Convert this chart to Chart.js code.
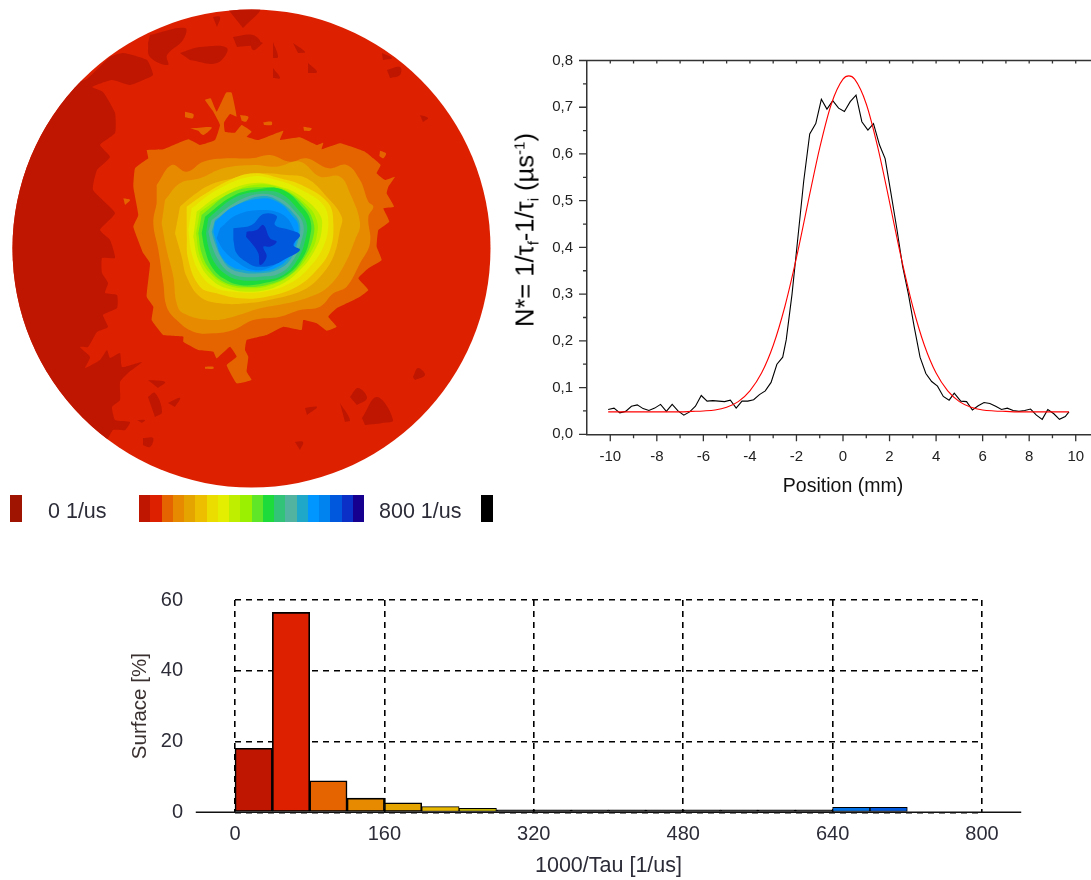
<!DOCTYPE html>
<html><head><meta charset="utf-8">
<script src="https://cdn.jsdelivr.net/npm/chart.js@4/dist/chart.umd.min.js"></script>
<style>
html,body{margin:0;padding:0;background:#fff;width:1091px;height:880px;overflow:hidden;font-family:"Liberation Sans",Arial,sans-serif}
canvas{position:absolute;display:block}
.t{position:absolute;white-space:nowrap;color:#2c2c38}
#ytitle{left:525px;top:229.5px;transform:translate(-50%,-50%) rotate(-90deg);font-size:25.5px;color:#000}
#ytitle sub{font-size:15px;vertical-align:-5px;line-height:0}
#ytitle sup{font-size:15px;vertical-align:9px;line-height:0}
.sw{position:absolute;top:495px;height:27px}
</style></head><body>
<canvas id="map" width="500" height="500" style="left:0;top:0"></canvas>
<canvas id="line" width="600" height="458" style="left:500px;top:40px"></canvas>
<canvas id="hist" width="940" height="295" style="left:120px;top:585px"></canvas>
<div class="t" id="ytitle">N*= 1/τ<sub>f</sub>-1/τ<sub>i</sub> (µs<sup>-1</sup>)</div>
<div id="legend"></div>
<script>
// ---------- shared colour scale (20 classes, 0..800 1/us) ----------
const classColors=['#BE1600','#DC2000','#E56400','#E88A00','#E6A400','#EDBE00','#EBDD00','#E4EE00','#BFEE00','#9AF000','#60E628','#1EDB3C','#33C378','#52B3A0','#20A8C8','#0096FF','#0083EE','#0059DC','#0A30C8','#160090'];
const legendLow='0 1/us', legendHigh='800 1/us', underColor='#9E1400', overColor='#000000';

// ---------- histogram ----------
const binCenters=[20,60,100,140,180,220,260,300,340,380,420,460,500,540,580,620,660,700,740,780];
const surfacePct=[18.1,56.5,8.9,4.0,2.7,1.6,1.1,0.7,0.7,0.7,0.7,0.7,0.7,0.7,0.7,0.7,1.4,1.4,0,0];
const histBarColors=['#BE1600','#DC2000','#E56400','#E88A00','#E6A400','#E8B800','#C4B400','#000','#000','#000','#000','#000','#000','#000','#000','#000','#0070E6','#0059DC','#000','#000'];
const histXTicks=[0,160,320,480,640,800];
const histYTicks=[0,20,40,60];
const histBaseline=[-42,842];

// ---------- profile ----------
const posMm=[-10.09,-9.84,-9.59,-9.34,-9.09,-8.84,-8.59,-8.34,-8.09,-7.84,-7.59,-7.34,-7.09,-6.84,-6.59,-6.34,-6.09,-5.84,-5.59,-5.34,-5.09,-4.84,-4.59,-4.34,-4.09,-3.84,-3.59,-3.34,-3.09,-2.84,-2.59,-2.44,-2.19,-1.94,-1.69,-1.43,-1.17,-0.93,-0.69,-0.44,-0.19,0.06,0.31,0.56,0.81,1.07,1.31,1.57,1.81,2.06,2.31,2.56,2.81,3.06,3.31,3.56,3.81,4.06,4.31,4.56,4.78,5.06,5.31,5.56,5.81,6.06,6.31,6.56,6.81,7.06,7.31,7.56,7.81,8.06,8.31,8.56,8.8,9.06,9.3,9.55,9.71];
const density=[.053,.056,.046,.049,.060,.063,.055,.051,.056,.064,.049,.064,.050,.041,.048,.060,.083,.071,.072,.071,.070,.073,.056,.071,.071,.074,.085,.093,.111,.150,.165,.202,.300,.420,.541,.643,.665,.717,.696,.714,.698,.691,.712,.726,.669,.651,.665,.619,.590,.516,.441,.360,.300,.230,.165,.130,.113,.103,.081,.073,.088,.071,.070,.052,.061,.068,.066,.060,.053,.056,.051,.049,.051,.054,.041,.032,.053,.044,.032,.038,.048];
const fitMm=[-10.09,-9,-8,-7,-6.5,-6,-5.5,-5,-4.5,-4,-3.5,-3,-2.5,-2,-1.5,-1,-0.5,0,0.25,0.5,1,1.5,2,2.5,3,3.5,4,4.5,5,5.5,6,6.5,7,7.5,8,9,9.71];
const fitValues=[.048,.048,.048,.048,.049,.050,.052,.058,.070,.093,.131,.190,.273,.378,.497,.613,.707,.760,.767,.760,.707,.613,.497,.378,.273,.190,.131,.093,.070,.058,.052,.050,.049,.048,.048,.048,.048];
const lineXLabels=[-10,-8,-6,-4,-2,0,2,4,6,8,10];
const lineXMinor=[-9,-7,-5,-3,-1,1,3,5,7,9];
const lineYLabels=[0,.1,.2,.3,.4,.5,.6,.7,.8];
const lineYMinor=[.05,.15,.25,.35,.45,.55,.65,.75];

// ---------- map: disc, and contour outlines (map units) ----------
const discCenter=[251.5,248.5], discRadius=239;
const wholeField=[0,0,500,0,500,500,0,500];
const lowMain=[0,0,50,80,85,80,110,57,123,53,147,60,153,75,143,80,130,85,112,80,92,87,103,92,115,113,115,133,100,145,110,157,97,170,93,190,115,213,100,230,110,240,115,258,102,258,102,273,108,283,105,293,117,295,117,308,103,315,108,327,97,332,88,347,80,347,90,357,85,368,100,360,107,350,110,358,120,353,122,367,142,362,128,373,120,382,120,400,112,407,115,420,130,422,125,430,113,430,107,440,80,470,0,500];
const lowIslands=[
[150,35,185,28,183,40,167,55,168,65,150,57,148,43],[180,53,200,47,227,48,217,63,190,60],[233,37,253,35,260,43,237,47],[213,17,220,17,217,27],[227,8,260,8,243,28],
[148,380,165,382,158,388],[148,397,155,393,162,412,155,417],[168,403,180,398,175,407],[137,420,145,420,142,423],[143,438,153,438,150,447,143,445],
[387,70,400,67,400,75,390,78],[382,53,392,58,383,60],[308,63,317,72,308,73],[273,68,280,78,273,78],[293,43,305,52,298,53],[273,42,278,57,273,58],[263,43,253,50,250,37],[420,115,428,118,423,122],
[413,377,418,368,425,375,415,380],[350,397,358,388,367,398,357,405],[362,418,377,397,393,420,382,423,365,425],[340,403,350,420,345,422],[305,408,317,407,307,415],[295,442,303,442,300,450]];
const class3=[80,180,130,178,205,148,240,165,285,150,300,105,280,65,255,30,272,25,290,65,318,8,335,8,350,80,330,72,312,98,315,125,345,128,365,105,395,125,380,140,415,150,490,122,480,150,540,142,590,165,610,158,605,178,660,160,735,185,760,205,782,225,770,250,795,270,825,260,805,290,800,310,822,350,790,355,808,395,775,420,770,470,785,510,745,535,715,565,745,600,720,620,680,640,650,655,625,680,650,710,620,722,590,700,550,690,545,720,490,710,440,735,380,750,375,780,385,800,380,845,395,870,350,880,320,825,350,800,330,770,290,805,280,785,235,780,190,755,190,740,130,735,95,690,100,650,80,620,90,520,70,490,40,410,55,375,40,290,45,235,85,205];
const class3Islands=[[195,65,220,72,218,85,195,82],[360,75,385,80,378,95,365,92],[210,115,275,112,250,135,235,122],[430,97,455,95,455,105,432,105],[550,110,575,115,570,122,552,122],[780,182,798,190,790,205,778,198],[10,325,30,330,15,345],[255,830,280,830,280,836,255,836]];
const class4=[110,285,155,225,200,245,250,215,320,205,395,205,450,195,510,215,560,205,625,235,680,225,720,270,745,335,760,350,745,380,750,460,720,520,680,590,640,610,600,650,540,660,480,680,400,690,340,720,280,730,220,725,170,690,140,650,130,580,115,480,100,400,110,340];
const class5=[135,330,180,280,240,265,310,235,400,225,470,230,540,215,600,260,660,260,690,310,720,400,705,450,670,530,625,590,570,620,500,640,420,655,340,680,270,690,190,670,170,640,160,560,140,480,125,400];
const class6=[180,350,215,320,270,285,340,265,420,250,500,255,560,265,620,320,665,380,660,420,640,500,600,560,550,600,470,625,380,640,300,640,240,620,200,560,185,500,165,430];
const class7=[200,350,250,315,330,270,400,250,480,265,555,290,625,340,640,400,630,480,590,540,530,590,440,620,360,625,290,610,240,590,205,510,200,430];
const class8=[215,355,290,300,390,260,470,270,545,300,610,345,625,400,610,470,570,530,510,580,430,605,340,605,280,590,240,550,215,490,205,420];
const class9=[230,365,300,315,395,280,480,290,545,320,600,375,605,420,590,470,545,535,480,585,400,605,320,595,270,565,235,510,220,440];
const class10=[240,365,310,320,400,285,485,295,560,345,590,390,590,440,570,490,525,545,455,585,380,595,320,585,270,550,240,500,228,430];
const class11=[245,375,330,310,410,292,490,300,555,350,580,395,580,440,555,500,510,555,440,585,370,590,310,575,270,540,245,490,235,430];
const class12=[255,380,335,320,410,298,485,298,550,355,572,395,570,440,550,500,500,555,430,580,360,585,310,565,275,530,255,480,245,430];
const class13=[265,385,340,325,410,305,480,310,540,365,560,400,558,440,535,505,490,555,430,570,360,570,320,555,285,520,265,470,258,430];
const class14=[275,390,350,335,420,312,480,325,530,370,550,405,545,450,520,510,480,550,420,560,365,560,325,545,295,510,275,465,265,425];
const class15=[285,390,360,340,430,318,480,335,525,375,540,405,535,450,510,510,470,540,415,550,370,548,330,535,305,505,285,460,275,425];
const class16=[285,395,340,350,430,325,480,340,515,375,535,405,530,450,505,505,465,535,415,545,370,540,335,530,305,500,290,460,280,425];
const class17=[300,415,350,375,430,360,490,375,520,415,525,455,500,495,455,530,400,540,350,515,310,480,290,445];
const class18=[340,415,395,405,430,372,470,378,465,405,510,420,540,435,520,465,540,480,500,505,460,525,410,530,385,520,350,490,340,450];
const class19=[380,425,410,420,430,405,450,445,470,455,450,470,430,470,440,500,420,525,415,490,395,460,378,440];
// class3..class19 and class3Islands were read in a finer grid anchored on the hot zone
const fineGrid={x0:120,y0:90,per:3};

// ---------- helpers ----------
Chart.defaults.font.family='"Liberation Sans",Arial,sans-serif';
Chart.defaults.animation=false;
Chart.defaults.responsive=false;
const toPts=a=>{const o=[];for(let i=0;i<a.length;i+=2)o.push({x:a[i],y:a[i+1]});return o};
const fine=a=>a.map((v,i)=>i%2?fineGrid.y0+v/fineGrid.per:fineGrid.x0+v/fineGrid.per);
const area=(arr,color,tension)=>({data:toPts(arr),showLine:true,fill:'shape',backgroundColor:color,borderWidth:0,pointRadius:0,tension:tension||0});
const noEdgePadding=s=>{s.paddingTop=s.paddingBottom=s.paddingLeft=s.paddingRight=0};

// ---------- map ----------
const layers=[area(wholeField,classColors[1]),area(lowMain,classColors[0],0.15)];
lowIslands.forEach(p=>layers.push(area(p,classColors[0],0.4)));
layers.push(area(fine(class3),classColors[2],0.1));
class3Islands.forEach(p=>layers.push(area(fine(p),classColors[2],0.3)));
[class4,class5,class6,class7,class8,class9,class10,class11,class12,class13,class14,class15,class16,class17,class18,class19]
 .forEach((p,i)=>layers.push(area(fine(p),classColors[i+3],0.4)));
layers.forEach((d,i)=>d.order=-i);
new Chart(document.getElementById('map'),{type:'scatter',data:{datasets:layers},
 options:{layout:{padding:0},plugins:{legend:{display:false},tooltip:{enabled:false}},
  scales:{x:{type:'linear',min:0,max:500,display:false},y:{type:'linear',min:0,max:500,reverse:true,display:false}}},
 plugins:[{id:'discClip',
  beforeDatasetsDraw(c){const x=c.scales.x,y=c.scales.y,g=c.ctx;g.save();g.beginPath();
    g.arc(x.getPixelForValue(discCenter[0]),y.getPixelForValue(discCenter[1]),x.getPixelForValue(discCenter[0]+discRadius)-x.getPixelForValue(discCenter[0]),0,Math.PI*2);g.clip();},
  afterDatasetsDraw(c){c.ctx.restore();}}]});

// ---------- profile ----------
const axisColor='#333';
new Chart(document.getElementById('line'),{type:'scatter',
 data:{datasets:[
  {data:posMm.map((x,i)=>({x,y:density[i]})),showLine:true,borderColor:'#000',borderWidth:1.1,pointRadius:0,tension:0,order:1},
  {data:fitMm.map((x,i)=>({x,y:fitValues[i]})),showLine:true,borderColor:'#f00',borderWidth:1.1,pointRadius:0,cubicInterpolationMode:'monotone',order:0}]},
 options:{layout:{padding:{top:20.5,right:1}},plugins:{legend:{display:false},tooltip:{enabled:false}},
  scales:{
   x:{type:'linear',min:-11,max:11,grid:{display:false,drawTicks:false},border:{display:true,color:axisColor,width:1.5},
      afterBuildTicks(s){s.ticks=lineXLabels.map(value=>({value}))},
      afterFit(s){s.height=63.7;noEdgePadding(s)},
      ticks:{color:'#222',font:{size:15},padding:14,autoSkip:false,maxRotation:0,callback:v=>String(v)},
      title:{display:true,text:'Position (mm)',color:'#111',font:{size:19.5},padding:{top:8,bottom:0}}},
   y:{type:'linear',min:0,max:.8,grid:{display:false,drawTicks:false},border:{display:true,color:axisColor,width:1.5},
      afterBuildTicks(s){s.ticks=lineYLabels.map(value=>({value}))},
      afterFit(s){s.width=87;noEdgePadding(s)},
      ticks:{color:'#222',font:{size:15},padding:14,autoSkip:false,callback:v=>v.toFixed(1).replace('.',',')}}}},
 plugins:[{id:'axisTicks',afterDraw(c){const g=c.ctx,x=c.scales.x,y=c.scales.y,a=c.chartArea;g.save();g.strokeStyle=axisColor;g.lineWidth=1.3;g.beginPath();
   const v=(val,l)=>{const p=x.getPixelForValue(val);g.moveTo(p,a.bottom);g.lineTo(p,a.bottom+l);g.moveTo(p,a.top);g.lineTo(p,a.top+3);};
   const h=(val,l)=>{const p=y.getPixelForValue(val);g.moveTo(a.left,p);g.lineTo(a.left-l,p);};
   lineXLabels.forEach(t=>v(t,7));lineXMinor.forEach(t=>v(t,4));lineYLabels.forEach(t=>h(t,8));lineYMinor.forEach(t=>h(t,4));
   g.moveTo(a.left,a.top);g.lineTo(a.right,a.top);g.stroke();g.restore();}}]});

// ---------- histogram ----------
const textDark='#2c2c38';
new Chart(document.getElementById('hist'),{type:'bar',
 data:{datasets:[{data:binCenters.map((x,i)=>({x,y:surfacePct[i]})),backgroundColor:histBarColors,borderColor:'#000',borderWidth:c=>c.raw&&c.raw.y<2?1:1.6,borderSkipped:false,barPercentage:1,categoryPercentage:1,clip:false}]},
 options:{layout:{padding:{top:15,right:78}},plugins:{legend:{display:false},tooltip:{enabled:false}},
  scales:{
   x:{type:'linear',offset:false,min:0,max:800,grid:{color:'#000',lineWidth:1.6,drawTicks:false,offset:false},border:{display:false,dash:[6,5]},
      afterBuildTicks(s){s.ticks=histXTicks.map(value=>({value}))},
      afterFit(s){s.height=67.7;noEdgePadding(s)},
      ticks:{color:textDark,font:{size:20},padding:10,autoSkip:false,maxRotation:0,callback:v=>String(v)},
      title:{display:true,text:'1000/Tau [1/us]',color:textDark,font:{size:21.5},padding:{top:4,bottom:1}}},
   y:{type:'linear',min:0,max:60,grid:{color:'#000',lineWidth:1.6,drawTicks:false},border:{display:false,dash:[6,5]},
      afterBuildTicks(s){s.ticks=histYTicks.map(value=>({value}))},
      afterFit(s){s.width=115;noEdgePadding(s)},
      ticks:{color:textDark,font:{size:20},padding:52,autoSkip:false,callback:v=>String(v)},
      title:{display:true,text:'Surface [%]',color:'#3a3030',font:{size:20.5},padding:{top:8,bottom:0}}}}},
 plugins:[{id:'baseline',afterDraw(c){const g=c.ctx,x=c.scales.x,y=c.scales.y;g.save();g.strokeStyle='#111';g.lineWidth=1.6;g.beginPath();
   const p=y.getPixelForValue(0);g.moveTo(x.getPixelForValue(histBaseline[0]),p);g.lineTo(x.getPixelForValue(histBaseline[1]),p);g.stroke();g.restore();}}]});

// ---------- colour legend ----------
const lg=document.getElementById('legend');
const addBox=(left,w,color)=>{const d=document.createElement('div');d.className='sw';d.style.cssText=`left:${left}px;width:${w}px;background:${color}`;lg.appendChild(d)};
const addText=(left,s)=>{const d=document.createElement('div');d.className='t';d.textContent=s;d.style.cssText=`left:${left}px;top:499px;font-size:21.5px`;lg.appendChild(d)};
addBox(10,12,underColor);addText(48,legendLow);
classColors.forEach((col,i)=>addBox(139+i*11.25,11.25,col));
addText(379,legendHigh);addBox(481,12,overColor);
</script>
</body></html>
